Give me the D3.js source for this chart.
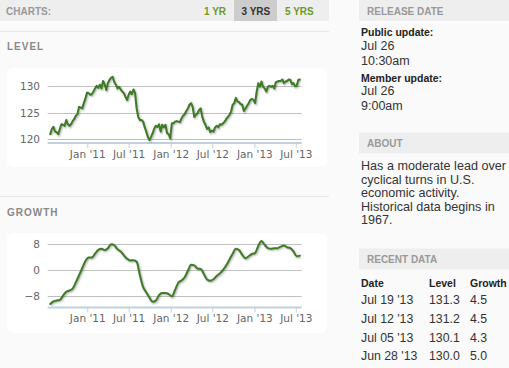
<!DOCTYPE html>
<html><head><meta charset="utf-8">
<script src="https://cdn.jsdelivr.net/npm/d3@7/dist/d3.min.js"></script>
<style>
html,body{margin:0;padding:0;background:#fafafa;overflow:hidden;}
svg{display:block;}
</style></head>
<body>
<svg id="c" width="509" height="368"></svg>
<script>
// ---- data ----
const levelEnd = "2013-07-19";
const levelValues = [
120.9,121.9,122.3,121.4,121.3,120.9,121.9,122.8,122.7,122.5,
123.6,122.8,122.5,122.8,123.4,123.8,124.4,124.7,126.1,126.0,125.8,
126.8,127.7,128.8,128.7,128.4,128.5,129.0,129.6,130.1,129.7,
130.3,129.6,131.0,130.4,129.3,130.6,131.2,131.6,131.8,130.8,
130.3,129.6,129.9,129.4,129.0,128.7,128.0,127.4,128.4,129.0,
128.5,129.4,128.7,125.8,124.2,123.6,123.6,123.3,122.3,121.4,
120.4,119.8,120.4,121.1,122.0,122.5,122.3,122.8,121.4,122.7,
122.2,122.7,121.1,120.9,120.1,123.0,123.0,123.3,123.4,123.3,
123.2,123.9,124.4,124.7,125.3,125.8,126.5,126.8,126.1,124.2,
124.6,124.9,125.5,125.8,124.2,123.3,122.7,121.9,122.2,121.3,
121.6,121.4,122.2,122.5,122.2,122.8,122.7,123.0,123.3,123.8,124.2,
124.6,125.2,126.5,126.8,127.8,127.1,127.0,126.6,126.5,125.3,
125.8,126.3,126.8,127.4,127.6,127.4,126.8,129.0,130.6,129.9,
130.9,129.9,129.6,129.0,129.9,130.1,129.9,130.1,129.6,130.8,
130.9,131.0,131.0,131.3,130.6,130.9,131.0,131.3,131.2,130.4,
130.6,130.0,130.1,131.2,131.3
];
// growth: every two weeks, ending Jul 19 2013
const growthValues = [
-10.5,-9.7,-9.4,-9.2,-7.9,-6.7,-6.3,-5.7,-3.8,-1.6,
0.6,2.8,3.9,3.9,5.1,6.3,6.6,6.2,6.8,8.0,
7.7,6.5,5.8,4.6,3.5,3.0,3.1,2.6,-1.5,-5.2,
-6.9,-8.5,-9.8,-9.4,-7.7,-7.1,-7.1,-7.4,-8.1,-6.1,
-3.9,-3.2,-2.2,-0.2,1.7,1.5,0.5,0.4,-1.2,-2.9,
-3.3,-2.8,-1.8,-1.0,0.1,1.5,3.3,5.1,6.6,6.2,
4.7,3.7,4.3,5.0,5.3,7.5,9.0,7.8,6.8,6.6,
6.8,6.8,7.3,7.6,7.1,6.8,5.8,4.3,4.5
];
const tickDates = ["2011-01-01","2011-07-01","2012-01-01","2012-07-01","2013-01-01","2013-07-01"];
const tickLabels = ["Jan '11","Jul '11","Jan '12","Jul '12","Jan '13","Jul '13"];
const levelTicks = [120,125,130];
const growthTicks = [-8,0,8];
const recentDates = ["Jul 19 '13","Jul 12 '13","Jul 05 '13","Jun 28 '13"];
const recentLevel = ["131.3","131.2","130.1","130.0"];
const recentGrowth = ["4.5","4.5","4.3","5.0"];
const aboutLines = ["Has a moderate lead over","cyclical turns in U.S.","economic activity.","Historical data begins in","1967."];

// ---- build ----
const svg = d3.select("#c");
const parse = d3.timeParse("%Y-%m-%d");
const endDate = parse(levelEnd);
const levelData = levelValues.map((v,i)=>({d:d3.timeDay.offset(endDate, -7*(levelValues.length-1-i)), v}));
const growthData = growthValues.map((v,i)=>({d:d3.timeDay.offset(endDate, -14*(growthValues.length-1-i)), v}));

const AR = "Liberation Sans, Arial, sans-serif";
const DJ = "DejaVu Sans, sans-serif";
const lineColor = "#3d7b25";

// top bar
svg.append("rect").attr("x",0).attr("y",0).attr("width",329).attr("height",21).attr("fill","#eeeeee");
svg.append("rect").attr("x",234).attr("y",0).attr("width",43).attr("height",21).attr("fill","#cccccc");
svg.append("text").attr("x",6).attr("y",14.5).text("CHARTS:").attr("font-family",AR).attr("font-weight","bold").attr("font-size",10).attr("fill","#999");
svg.append("text").attr("x",204).attr("y",14.5).text("1 YR").attr("font-family",AR).attr("font-weight","bold").attr("font-size",10).attr("fill","#6a9a2a");
svg.append("text").attr("x",241.5).attr("y",14.5).text("3 YRS").attr("font-family",AR).attr("font-weight","bold").attr("font-size",10).attr("fill","#333");
svg.append("text").attr("x",285).attr("y",14.5).text("5 YRS").attr("font-family",AR).attr("font-weight","bold").attr("font-size",10).attr("fill","#6a9a2a");

svg.append("line").attr("x1",0).attr("x2",329).attr("y1",31.5).attr("y2",31.5).attr("stroke","#e6e6e6");
svg.append("line").attr("x1",0).attr("x2",329).attr("y1",196.5).attr("y2",196.5).attr("stroke","#e6e6e6");

svg.append("text").attr("x",7).attr("y",49.5).text("LEVEL").attr("font-family",AR).attr("font-weight","bold").attr("font-size",10).attr("letter-spacing",1).attr("fill","#888");
svg.append("text").attr("x",7).attr("y",215.5).text("GROWTH").attr("font-family",AR).attr("font-weight","bold").attr("font-size",10).attr("letter-spacing",1).attr("fill","#888");

const x = d3.scaleTime().domain([parse("2010-07-12"), parse("2013-07-27")]).range([47.7, 301.7]);

function chart(panelTop, panelBottom, data, yDomain, yRange, axisY, ticks, curve){
  svg.append("rect").attr("x",7).attr("y",panelTop).attr("width",320).attr("height",panelBottom-panelTop).attr("rx",6).attr("fill","#ffffff");
  const y = d3.scaleLinear().domain(yDomain).range(yRange);
  const g = svg.append("g");
  // grid
  g.selectAll(".grid").data(ticks).enter().append("line")
    .attr("x1",x.range()[0]).attr("x2",x.range()[1])
    .attr("y1",d=>Math.round(y(d))+0.5).attr("y2",d=>Math.round(y(d))+0.5)
    .attr("stroke","#c0c0c0").attr("stroke-width",1);
  // y labels
  g.selectAll(".yl").data(ticks).enter().append("text")
    .attr("x",40).attr("y",d=>y(d)+4).attr("text-anchor","end")
    .attr("font-family",DJ).attr("font-size",10.5).attr("fill","#666")
    .text(d=>d<0?"\u2212"+Math.abs(d):d);
  // x axis
  const xa = d3.axisBottom(x).tickValues(tickDates.map(parse)).tickSize(5).tickFormat((d,i)=>tickLabels[i]);
  const ag = g.append("g").attr("transform",`translate(0,${axisY})`).call(xa);
  ag.select(".domain").attr("stroke","#c0d0e0").attr("stroke-width",2).attr("d",`M${x.range()[0]},0H${x.range()[1]}`);
  ag.selectAll(".tick line").attr("stroke","#c0d0e0").attr("stroke-width",1);
  ag.selectAll(".tick text").attr("font-family",DJ).attr("font-size",10.5).attr("fill","#666").attr("dy","1.0em").attr("y",4);
  // line with shadow
  const line = d3.line().x(d=>x(d.d)).y(d=>y(d.v)).curve(curve);
  [[5,0.05],[3,0.1],[1,0.15]].forEach(([w,o])=>{
    g.append("path").datum(data).attr("d",line).attr("fill","none")
      .attr("stroke","#000").attr("stroke-opacity",o).attr("stroke-width",w)
      .attr("stroke-linejoin","round").attr("transform","translate(1,1)");
  });
  g.append("path").datum(data).attr("d",line).attr("fill","none")
    .attr("stroke",lineColor).attr("stroke-width",2).attr("stroke-linejoin","round").attr("stroke-linecap","round");
}
chart(68, 167, levelData, [120,130], [139,86.3], 143, levelTicks, d3.curveLinear);
chart(233, 333, growthData, [-8,8], [296,244.3], 307.5, growthTicks, d3.curveMonotoneX);

// right column
function header(yTop, label){
  svg.append("rect").attr("x",359).attr("y",yTop).attr("width",150).attr("height",21).attr("fill","#eeeeee");
  svg.append("text").attr("x",367).attr("y",yTop+14.5).text(label).attr("font-family",AR).attr("font-weight","bold").attr("font-size",10).attr("fill","#999");
}
header(0,"RELEASE DATE");
header(132.5,"ABOUT");
header(248.5,"RECENT DATA");

function txt(xp, yp, s, size, bold, color){
  svg.append("text").attr("x",xp).attr("y",yp).text(s).attr("font-family",AR)
    .attr("font-size",size).attr("font-weight",bold?"bold":"normal").attr("fill",color);
}
txt(361,36,"Public update:",10.5,true,"#222");
txt(361,49.5,"Jul 26",12.5,false,"#333");
txt(361,64.5,"10:30am",12.5,false,"#333");
txt(361,82,"Member update:",10.5,true,"#222");
txt(361,95,"Jul 26",12.5,false,"#333");
txt(361,110,"9:00am",12.5,false,"#333");

aboutLines.forEach((s,i)=>txt(361,170+i*13.6,s,12.6,false,"#333"));

txt(361,286.5,"Date",10.5,true,"#222");
txt(429,286.5,"Level",10.5,true,"#222");
txt(470,286.5,"Growth",10.5,true,"#222");
recentDates.forEach((s,i)=>{
  const yy = 304 + i*18.8;
  txt(361,yy,s,12.3,false,"#333");
  txt(429,yy,recentLevel[i],12.3,false,"#333");
  txt(470,yy,recentGrowth[i],12.3,false,"#333");
});
</script>
</body></html>
